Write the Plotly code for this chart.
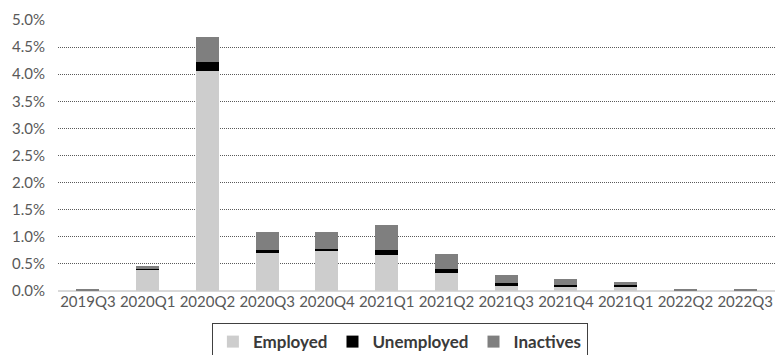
import plotly.graph_objects as go

quarters = ["2019Q3", "2020Q1", "2020Q2", "2020Q3", "2020Q4", "2021Q1",
            "2021Q2", "2021Q3", "2021Q4", "2021Q1", "2022Q2", "2022Q3"]
employed = [0.0000, 0.0039, 0.0405, 0.0070, 0.0073, 0.0067,
            0.0034, 0.0011, 0.0008, 0.0008, 0.0000, 0.0000]
unemployed = [0.0000, 0.0001, 0.0017, 0.0005, 0.0005, 0.0008,
              0.0006, 0.0003, 0.0003, 0.0004, 0.0000, 0.0000]
inactives = [0.0002, 0.0006, 0.0046, 0.0033, 0.0030, 0.0046,
             0.0029, 0.0015, 0.0011, 0.0005, 0.0002, 0.0002]
y_ticks = [0.0, 0.005, 0.01, 0.015, 0.02, 0.025, 0.03, 0.035, 0.04, 0.045, 0.05]

xpos = list(range(len(quarters)))
font = "Lato, 'Open Sans', sans-serif"

fig = go.Figure()
fig.add_trace(go.Bar(x=xpos, y=employed, name="Employed", marker_color="#cdcdcd",
                     marker_line_width=0))
fig.add_trace(go.Bar(x=xpos, y=unemployed, name="Unemployed", marker_color="#000000",
                     marker_line_width=0))
fig.add_trace(go.Bar(x=xpos, y=inactives, name="Inactives", marker_color="#7f7f7f",
                     marker_line_width=0))

fig.update_layout(
    barmode="stack",
    bargap=0.615,
    width=775, height=355,
    margin=dict(l=58, r=0, t=20, b=64, autoexpand=False),
    paper_bgcolor="white", plot_bgcolor="white",
    font=dict(family=font, size=15, color="#595959"),
    showlegend=True,
    legend=dict(orientation="h", x=0.516, xanchor="center", xref="container",
                y=0.09, yanchor="top", yref="container",
                traceorder="normal",
                bordercolor="#404040", borderwidth=1,
                font=dict(family=font, size=17, color="#3a3a3a", weight="bold"),
                itemwidth=30, tracegroupgap=0),
)
fig.update_xaxes(
    tickmode="array", tickvals=xpos, ticktext=quarters,
    range=[-0.5, len(quarters) - 0.5],
    showgrid=False, showline=False, ticks="",
    tickfont=dict(family=font, size=15, color="#595959"),
)
fig.update_yaxes(
    range=[0, 0.05], tickvals=y_ticks, tickformat=".1%",
    showgrid=True, gridcolor="#5a5a5a", gridwidth=1, griddash="1px,1px",
    zeroline=True, zerolinecolor="#d9d9d9", zerolinewidth=1.5,
    showline=False, ticks="", ticklabelstandoff=12,
    tickfont=dict(family=font, size=15, color="#595959"),
)

fig.write_html("out.html")
